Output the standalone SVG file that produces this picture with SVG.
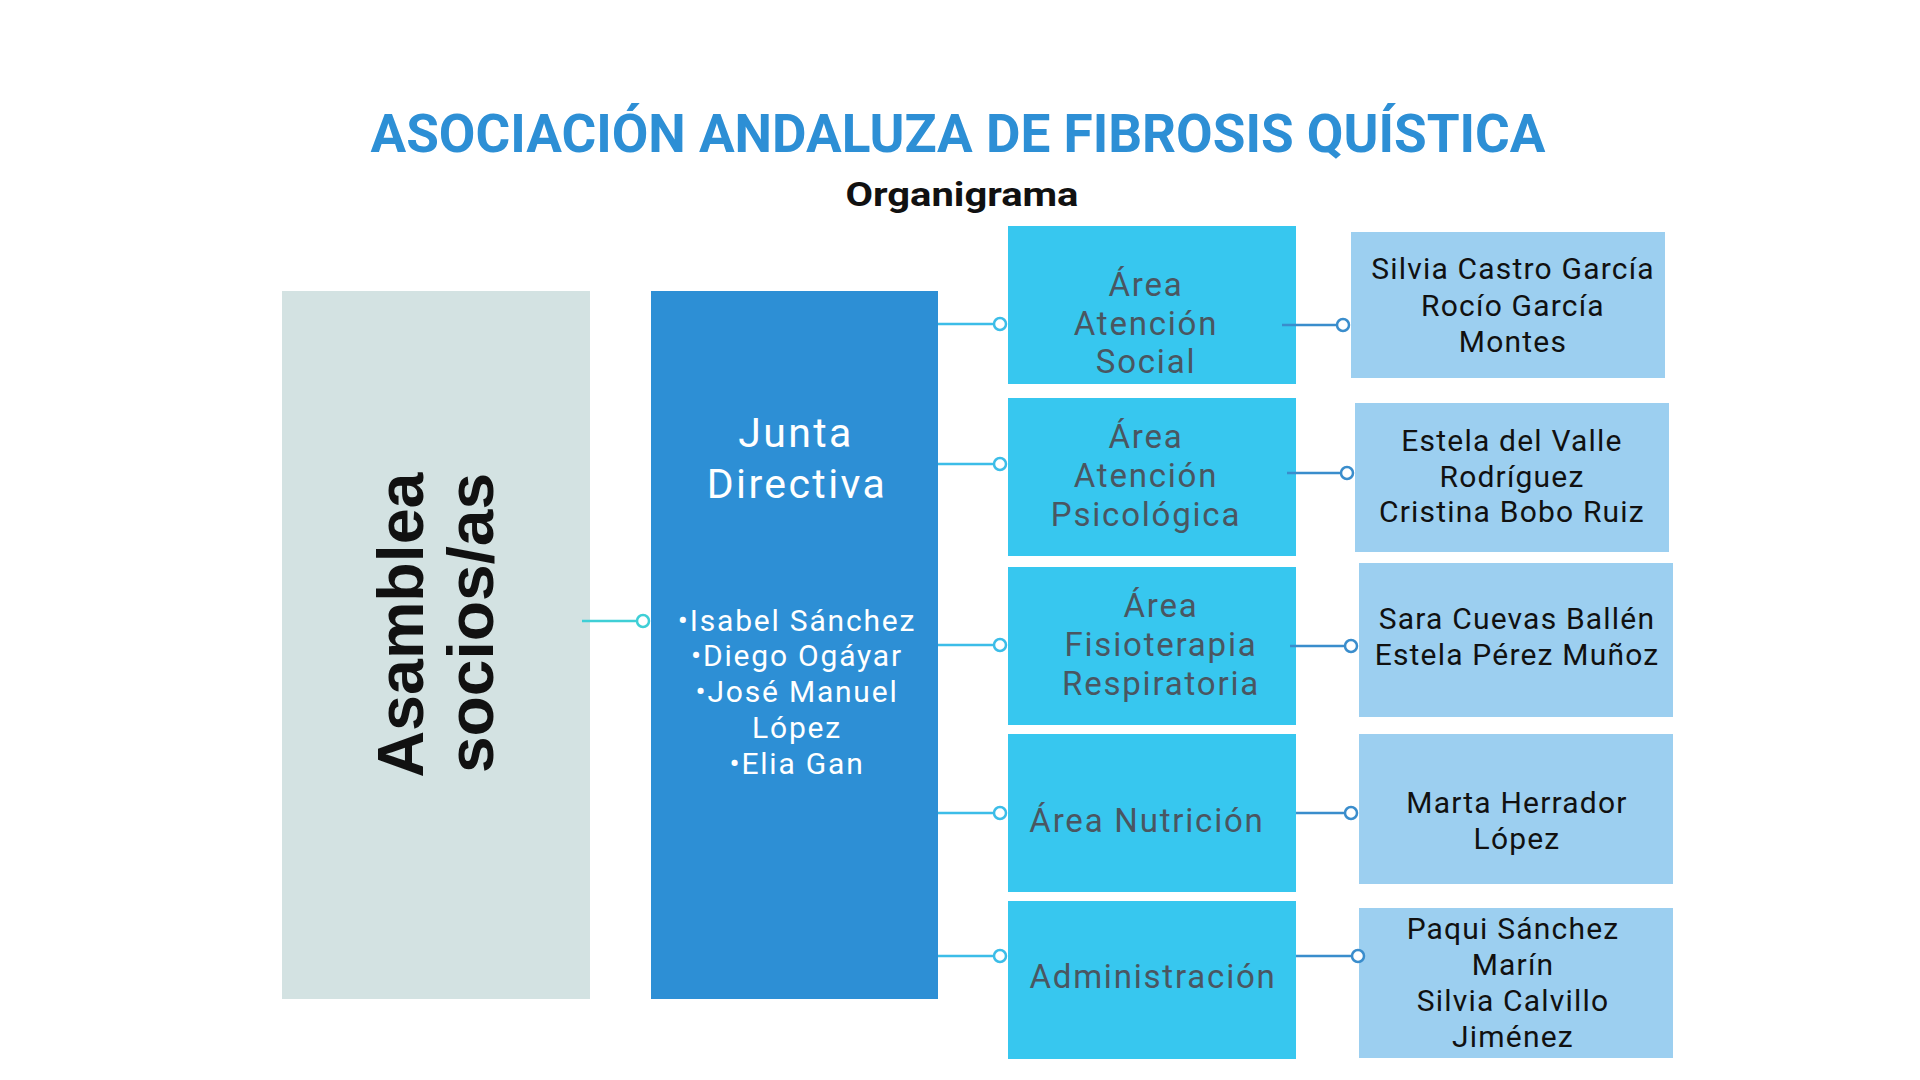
<svg xmlns="http://www.w3.org/2000/svg" width="1920" height="1080" viewBox="0 0 1920 1080">
<style>
.title{font-family:Roboto,"Liberation Sans",sans-serif;font-weight:700;fill:#2d8fd5}
.sub{font-family:Roboto,"Liberation Sans",sans-serif;font-weight:700;fill:#111}
.asm{font-family:"Liberation Sans",Arial,sans-serif;font-weight:700;font-size:64px;fill:#111}
.jt{font-family:Roboto,"Liberation Sans",sans-serif;font-size:41px;letter-spacing:2.4px;fill:#fff}
.jl{font-family:Roboto,"Liberation Sans",sans-serif;font-size:30px;letter-spacing:1.8px;fill:#fff}
.at{font-family:Roboto,"Liberation Sans",sans-serif;font-size:33px;letter-spacing:1.8px;fill:#4a5661}
.pt{font-family:Roboto,"Liberation Sans",sans-serif;font-size:30px;letter-spacing:1.2px;fill:#111}
text{text-anchor:middle}
.area{fill:#37c7ef}
.ppl{fill:#9ccff0}
.l1{stroke:#3fcfd6;stroke-width:2.5;fill:none}
.l2{stroke:#3cbde8;stroke-width:2.5;fill:none}
.l3{stroke:#3a8dcc;stroke-width:2.5;fill:none}
.c1{stroke:#3fcfd6;stroke-width:2.5;fill:#fff}
.c2{stroke:#3cbde8;stroke-width:2.5;fill:#fff}
.c3{stroke:#3a8dcc;stroke-width:2.5;fill:#fff}
</style>
<rect width="1920" height="1080" fill="#fff"/>
<g id="title">
<text class="title" x="958" y="152" font-size="53" textLength="1175" lengthAdjust="spacingAndGlyphs">ASOCIACIÓN ANDALUZA DE FIBROSIS QUÍSTICA</text>
<text class="sub" x="962" y="206" font-size="33" textLength="233" lengthAdjust="spacingAndGlyphs">Organigrama</text>
</g>
<g id="asamblea">
<rect x="282" y="291" width="308" height="708" fill="#d3e2e2"/>
<text class="asm" transform="translate(423,625) rotate(-90)" textLength="305" lengthAdjust="spacingAndGlyphs">Asamblea</text>
<text class="asm" transform="translate(493,623) rotate(-90)" textLength="300" lengthAdjust="spacingAndGlyphs">socios/as</text>
</g>
<g id="junta">
<rect x="651" y="291" width="287" height="708" fill="#2d8fd5"/>
<text class="jt" x="796" y="447">Junta</text>
<text class="jt" x="797" y="498">Directiva</text>
<text class="jl" x="797" y="631">•Isabel Sánchez</text>
<text class="jl" x="797" y="666">•Diego Ogáyar</text>
<text class="jl" x="797" y="702">•José Manuel</text>
<text class="jl" x="797" y="738">López</text>
<text class="jl" x="797" y="774">•Elia Gan</text>
</g>
<g id="area-social">
<rect class="area" x="1008" y="226" width="288" height="158"/>
<text class="at" x="1146" y="296">Área</text>
<text class="at" x="1146" y="335">Atención</text>
<text class="at" x="1146" y="373">Social</text>
</g>
<g id="area-psicologica">
<rect class="area" x="1008" y="398" width="288" height="158"/>
<text class="at" x="1146" y="448">Área</text>
<text class="at" x="1146" y="487">Atención</text>
<text class="at" x="1146" y="526">Psicológica</text>
</g>
<g id="area-fisioterapia">
<rect class="area" x="1008" y="567" width="288" height="158"/>
<text class="at" x="1161" y="617">Área</text>
<text class="at" x="1161" y="656">Fisioterapia</text>
<text class="at" x="1161" y="695">Respiratoria</text>
</g>
<g id="area-nutricion">
<rect class="area" x="1008" y="734" width="288" height="158"/>
<text class="at" x="1147" y="832">Área Nutrición</text>
</g>
<g id="administracion">
<rect class="area" x="1008" y="901" width="288" height="158"/>
<text class="at" x="1153" y="988">Administración</text>
</g>
<g id="personas-social">
<rect class="ppl" x="1351" y="232" width="314" height="146"/>
<text class="pt" x="1513" y="279">Silvia Castro García</text>
<text class="pt" x="1513" y="316">Rocío García</text>
<text class="pt" x="1513" y="352">Montes</text>
</g>
<g id="personas-psicologica">
<rect class="ppl" x="1355" y="403" width="314" height="149"/>
<text class="pt" x="1512" y="451">Estela del Valle</text>
<text class="pt" x="1512" y="487">Rodríguez</text>
<text class="pt" x="1512" y="522">Cristina Bobo Ruiz</text>
</g>
<g id="personas-fisioterapia">
<rect class="ppl" x="1359" y="563" width="314" height="154"/>
<text class="pt" x="1517" y="629">Sara Cuevas Ballén</text>
<text class="pt" x="1517" y="665">Estela Pérez Muñoz</text>
</g>
<g id="personas-nutricion">
<rect class="ppl" x="1359" y="734" width="314" height="150"/>
<text class="pt" x="1517" y="813">Marta Herrador</text>
<text class="pt" x="1517" y="849">López</text>
</g>
<g id="personas-administracion">
<rect class="ppl" x="1359" y="908" width="314" height="150"/>
<text class="pt" x="1513" y="939">Paqui Sánchez</text>
<text class="pt" x="1513" y="975">Marín</text>
<text class="pt" x="1513" y="1011">Silvia Calvillo</text>
<text class="pt" x="1513" y="1047">Jiménez</text>
</g>
<g id="connectors">
<line class="l1" x1="582" y1="621" x2="637" y2="621"/>
<circle class="c1" cx="643" cy="621" r="6"/>
<line class="l2" x1="938" y1="324" x2="994" y2="324"/>
<circle class="c2" cx="1000" cy="324" r="6"/>
<line class="l2" x1="938" y1="464" x2="994" y2="464"/>
<circle class="c2" cx="1000" cy="464" r="6"/>
<line class="l2" x1="938" y1="645" x2="994" y2="645"/>
<circle class="c2" cx="1000" cy="645" r="6"/>
<line class="l2" x1="938" y1="813" x2="994" y2="813"/>
<circle class="c2" cx="1000" cy="813" r="6"/>
<line class="l2" x1="938" y1="956" x2="994" y2="956"/>
<circle class="c2" cx="1000" cy="956" r="6"/>
<line class="l3" x1="1282" y1="325" x2="1337" y2="325"/>
<circle class="c3" cx="1343" cy="325" r="6"/>
<line class="l3" x1="1287" y1="473" x2="1341" y2="473"/>
<circle class="c3" cx="1347" cy="473" r="6"/>
<line class="l3" x1="1290" y1="646" x2="1345" y2="646"/>
<circle class="c3" cx="1351" cy="646" r="6"/>
<line class="l3" x1="1296" y1="813" x2="1345" y2="813"/>
<circle class="c3" cx="1351" cy="813" r="6"/>
<line class="l3" x1="1296" y1="956" x2="1352" y2="956"/>
<circle class="c3" cx="1358" cy="956" r="6"/>
</g>
</svg>
